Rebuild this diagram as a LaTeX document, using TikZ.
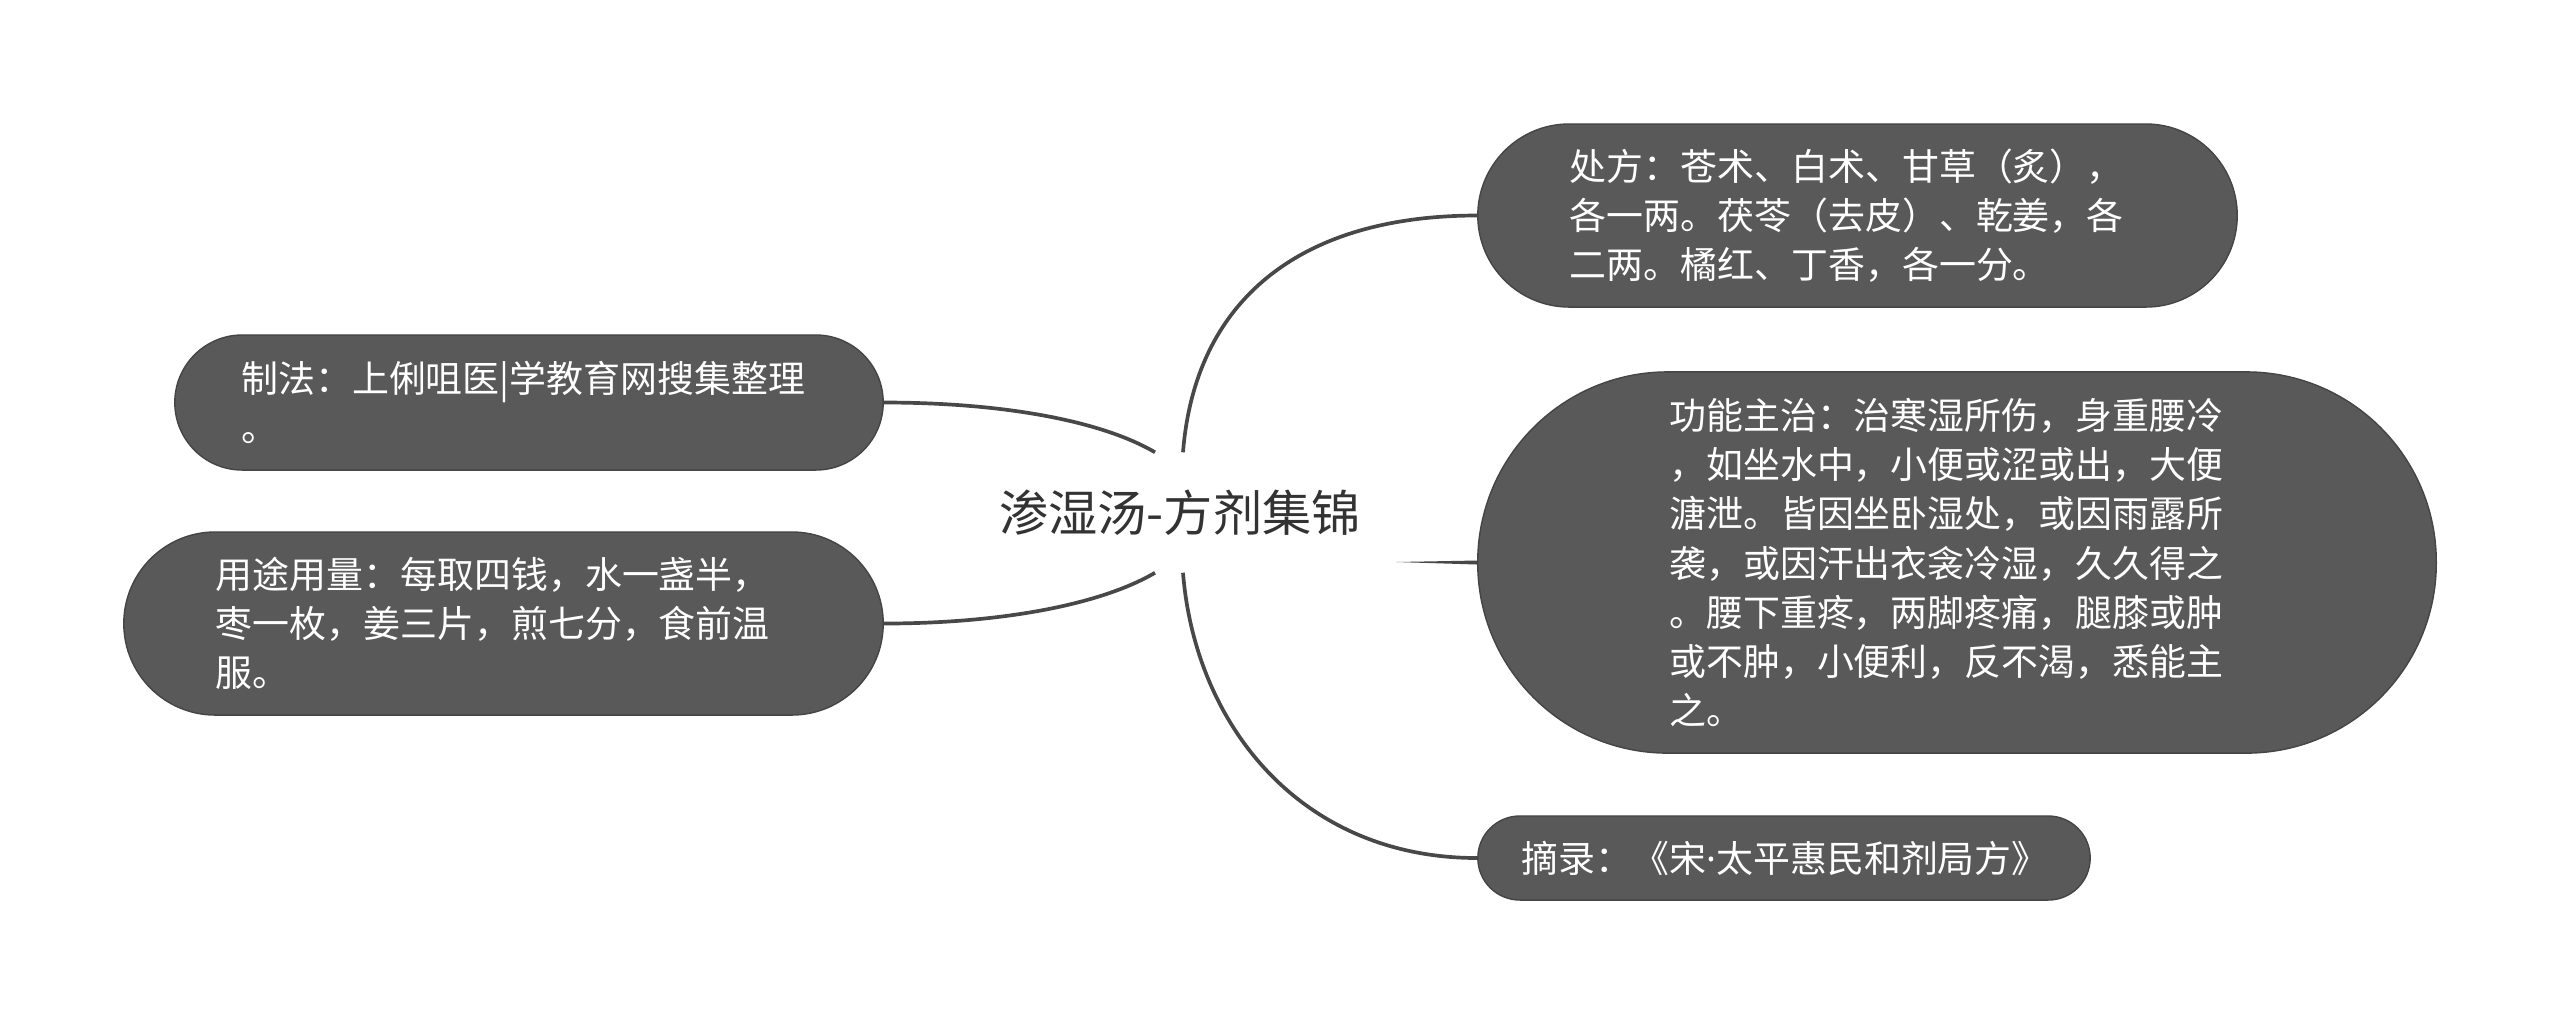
\documentclass[tikz,border=0pt]{standalone}
\usepackage{fontspec}
\setmainfont{Noto Sans CJK SC}
\newfontfamily\latinfont{Noto Sans}
\definecolor{boxfill}{HTML}{595959}
\definecolor{boxline}{HTML}{454545}
\definecolor{linkc}{HTML}{484848}
\definecolor{titlec}{HTML}{333333}
\begin{document}
\begin{tikzpicture}[x=0.01cm,y=-0.01cm,
  box/.style={draw=boxline, fill=boxfill, line width=0.4pt, rounded corners=#1,
    inner sep=0pt, text=white, align=left, text width=5.75cm,
    font=\fontsize{10.5}{14}\selectfont},
  link/.style={draw=linkc, line width=1.05pt},
  title/.style={inner sep=0pt, text=titlec, font=\fontsize{14}{16}\selectfont,
    minimum width=4.3cm, minimum height=1.19cm}]
\useasboundingbox (0,0) rectangle (2560,1026);

\node[title] (c) at (1180,512.5) {渗湿汤-方剂集锦};

\node[box=0.915cm, minimum width=7.59cm, minimum height=1.83cm] (chufang) at (1857.5,215.5)
  {处方：苍术、白术、甘草（炙），\\各一两。茯苓（去皮）、乾姜，各\\二两。橘红、丁香，各一分。};

\node[box=1.9cm, minimum width=9.58cm, minimum height=3.81cm] (gongneng) at (1957,562.5)
  {功能主治：治寒湿所伤，身重腰冷\\，如坐水中，小便或涩或出，大便\\溏泄。皆因坐卧湿处，或因雨露所\\袭，或因汗出衣衾冷湿，久久得之\\。腰下重疼，两脚疼痛，腿膝或肿\\或不肿，小便利，反不渴，悉能主\\之。};

\node[box=0.42cm, text width=5.24cm, minimum width=6.12cm, minimum height=0.84cm] (zhailu) at (1784,858)
  {摘录：《宋{\latinfont ·}太平惠民和剂局方》};

\node[box=0.675cm, minimum width=7.08cm, minimum height=1.35cm] (zhifa) at (529,402.5)
  {制法：上俐咀医|学教育网搜集整理\\。};

\node[box=0.915cm, minimum width=7.59cm, minimum height=1.83cm] (yongtu) at (503.5,623.5)
  {用途用量：每取四钱，水一盏半，\\枣一枚，姜三片，煎七分，食前温\\服。};

% connectors
\draw[link] ([shift={(3,0)}]c.north) .. controls (1195,300) and (1300,215.5) .. (chufang.west);
\draw[link] ([shift={(3,0)}]c.south) .. controls (1195,724) and (1300,858) .. (zhailu.west);
\draw[link] ([shift={(-25,0)}]c.north) .. controls (1100,420) and (1000,402.5) .. (zhifa.east);
\draw[link] ([shift={(-25,0)}]c.south) .. controls (1100,605) and (1000,623.5) .. (yongtu.east);
\fill[linkc] ([shift={(0,49.5)}]c.east) -- ([shift={(0,-2)}]gongneng.west)
  -- ([shift={(0,2)}]gongneng.west) -- cycle;
\end{tikzpicture}
\end{document}
